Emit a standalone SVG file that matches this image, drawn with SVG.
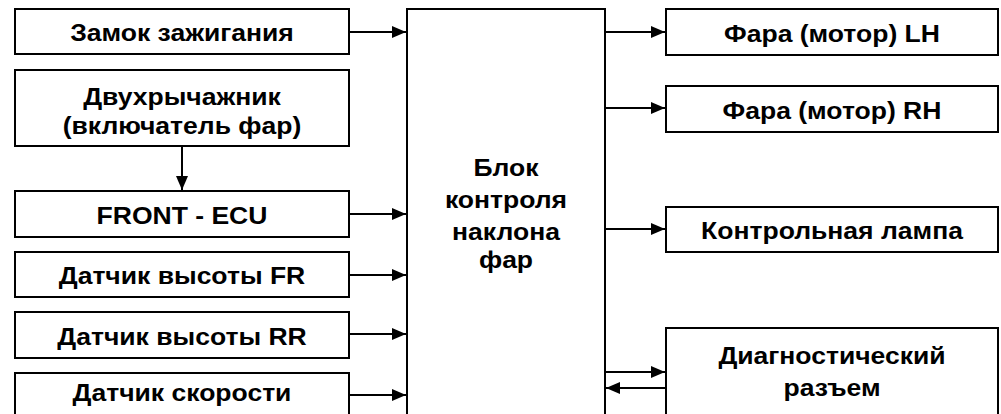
<svg xmlns="http://www.w3.org/2000/svg" width="1001" height="414" viewBox="0 0 1001 414">
<style>
rect{fill:#fff;stroke:#000;stroke-width:2}
text{font-family:"Liberation Sans",Arial,sans-serif;font-weight:bold;font-size:24px;text-anchor:middle;fill:#000}
.c line{stroke:#000;stroke-width:2}
</style>
<defs>
<marker id="a" markerWidth="14" markerHeight="12" refX="14" refY="6" orient="auto" markerUnits="userSpaceOnUse"><path d="M0,0L14,6L0,12z" fill="#000"/></marker>
</defs>
<rect x="0" y="0" width="1001" height="414" style="stroke:none"/>
<g id="n1"><rect x="15" y="9" width="334" height="45"/><text transform="translate(182 41) scale(1.105 1)">Замок зажигания</text></g>
<g id="n2"><rect x="15" y="70" width="334" height="76"/><text transform="translate(182 105) scale(1.105 1)">Двухрычажник</text><text transform="translate(182 134) scale(1.105 1)">(включатель фар)</text></g>
<g id="n3"><rect x="15" y="191" width="334" height="46"/><text transform="translate(182 224) scale(1.105 1)">FRONT - ECU</text></g>
<g id="n4"><rect x="15" y="252" width="334" height="45"/><text transform="translate(182 284) scale(1.105 1)">Датчик высоты FR</text></g>
<g id="n5"><rect x="15" y="312" width="334" height="46"/><text transform="translate(182 345) scale(1.105 1)">Датчик высоты RR</text></g>
<g id="n6"><rect x="15" y="373" width="334" height="50"/><text transform="translate(182 401) scale(1.105 1)">Датчик скорости</text></g>
<g id="center"><rect x="407" y="9" width="198" height="420"/><text transform="translate(506 176) scale(1.105 1)">Блок</text><text transform="translate(506 208) scale(1.105 1)">контроля</text><text transform="translate(506 240) scale(1.105 1)">наклона</text><text transform="translate(506 268) scale(1.105 1)">фар</text></g>
<g id="r1"><rect x="666" y="9" width="332" height="46"/><text transform="translate(832 42) scale(1.105 1)">Фара (мотор) LH</text></g>
<g id="r2"><rect x="666" y="86" width="332" height="46"/><text transform="translate(832 119) scale(1.105 1)">Фара (мотор) RH</text></g>
<g id="r3"><rect x="666" y="207" width="332" height="45"/><text transform="translate(832 239) scale(1.105 1)">Контрольная лампа</text></g>
<g id="r4"><rect x="666" y="328" width="332" height="100"/><text transform="translate(832 364) scale(1.105 1)">Диагностический</text><text transform="translate(832 396) scale(1.105 1)">разъем</text></g>
<g class="c" id="connectors">
<line x1="349" y1="32" x2="406" y2="32" marker-end="url(#a)"/>
<line x1="182" y1="146" x2="182" y2="190" marker-end="url(#a)"/>
<line x1="349" y1="214" x2="406" y2="214" marker-end="url(#a)"/>
<line x1="349" y1="275" x2="406" y2="275" marker-end="url(#a)"/>
<line x1="349" y1="334" x2="406" y2="334" marker-end="url(#a)"/>
<line x1="349" y1="395" x2="406" y2="395" marker-end="url(#a)"/>
<line x1="605" y1="32" x2="665" y2="32" marker-end="url(#a)"/>
<line x1="605" y1="108" x2="665" y2="108" marker-end="url(#a)"/>
<line x1="605" y1="229" x2="665" y2="229" marker-end="url(#a)"/>
<line x1="605" y1="372" x2="665" y2="372" marker-end="url(#a)"/>
<line x1="666" y1="388" x2="606" y2="388" marker-end="url(#a)"/>
</g>
</svg>
